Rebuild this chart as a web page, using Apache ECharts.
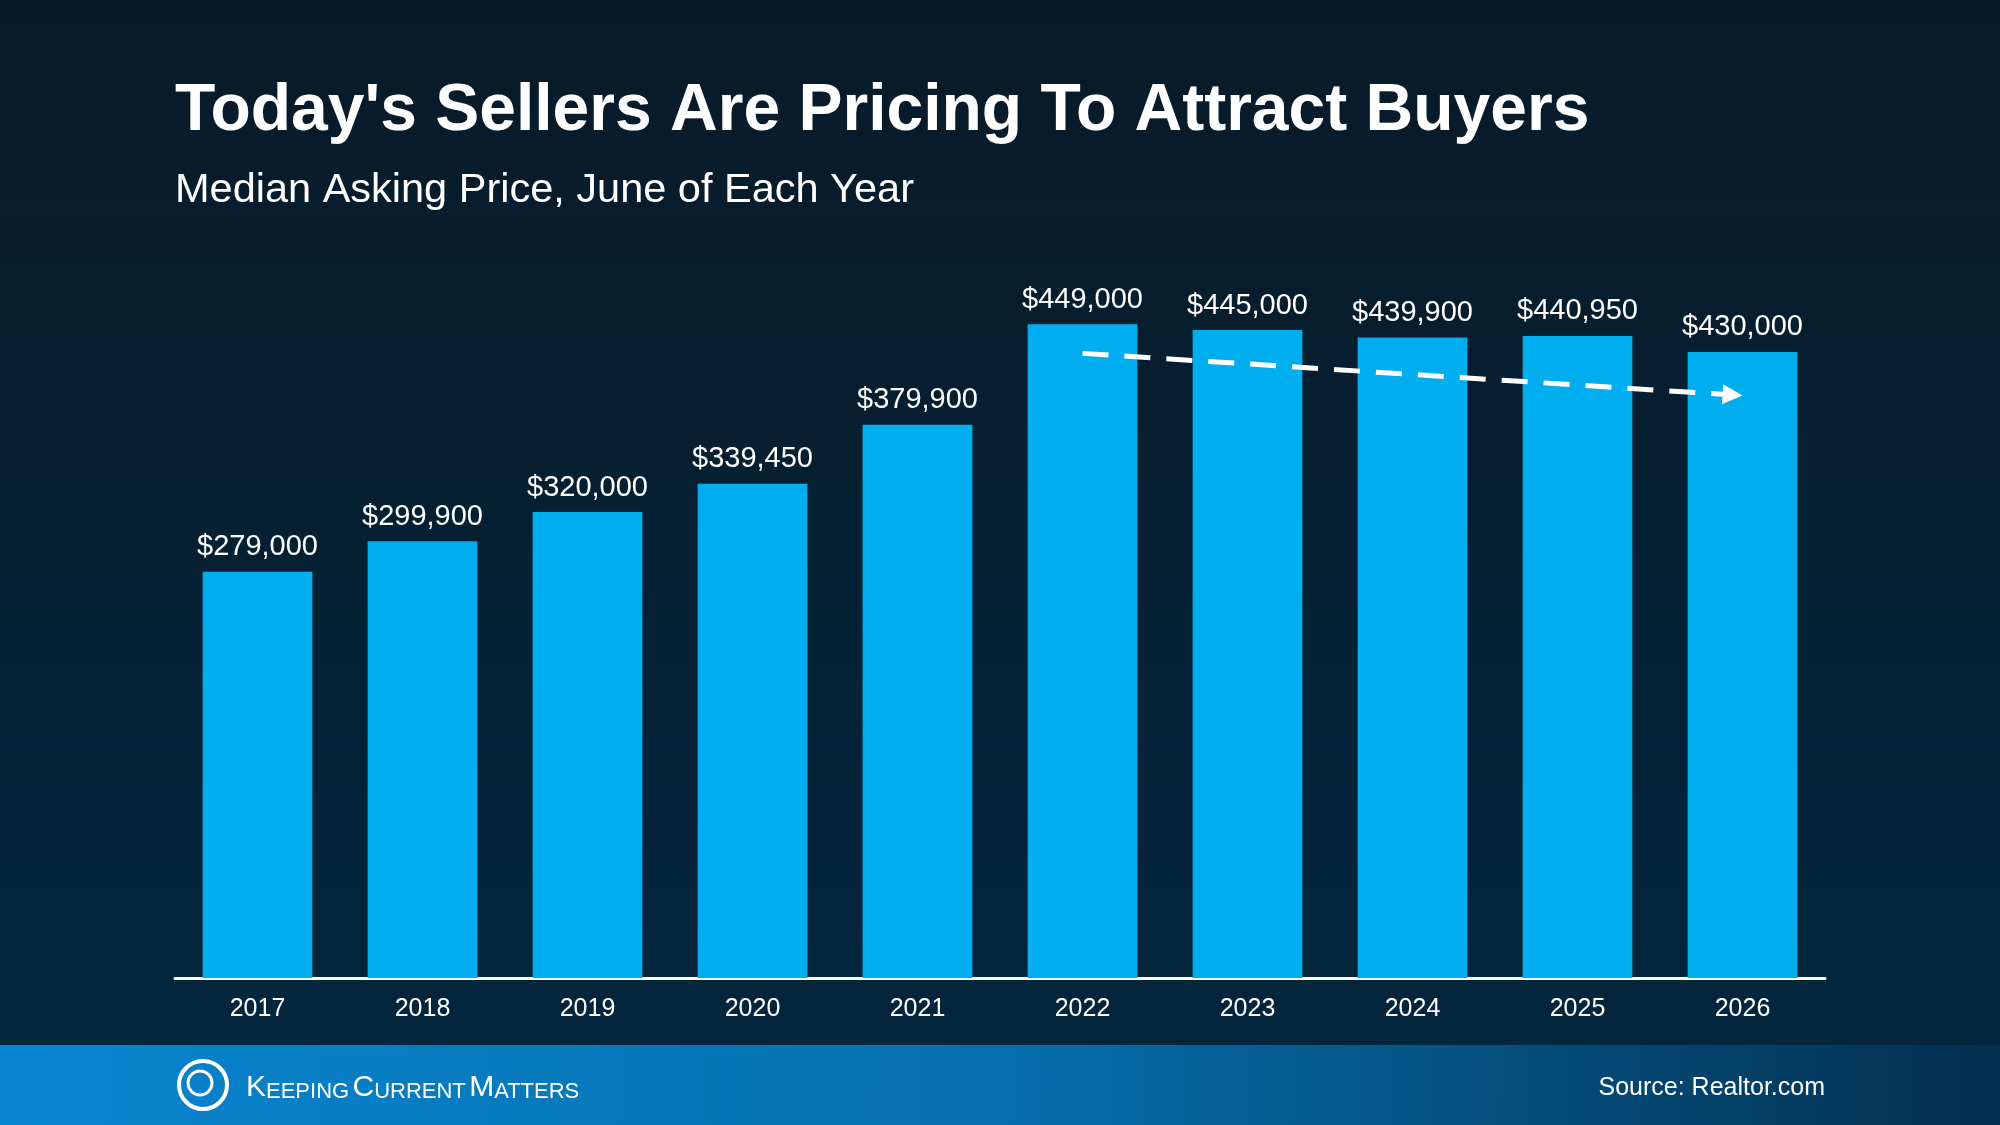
<!DOCTYPE html>
<html>
<head>
<meta charset="utf-8">
<title>Today's Sellers Are Pricing To Attract Buyers</title>
<script src="https://cdn.jsdelivr.net/npm/echarts@6/dist/echarts.min.js"></script>
<style>
  html, body { margin: 0; padding: 0; }
  #chart { width: 2000px; height: 1125px; }
</style>
</head>
<body>
<div id="chart"></div>
<script>
  // 数据
  var years = ['2017', '2018', '2019', '2020', '2021', '2022', '2023', '2024', '2025', '2026'];
  var prices = [279000, 299900, 320000, 339450, 379900, 449000, 445000, 439900, 440950, 430000];
  // 趋势箭头（2022 -> 2026）
  var trendYears = ['2022', '2026'];
  var trendValues = [429000, 400000];

  var font = '"Liberation Sans", Arial, sans-serif';
  var myChart = echarts.init(document.getElementById('chart'));

  myChart.setOption({
    backgroundColor: new echarts.graphic.LinearGradient(0, 0, 0, 1, [
      {offset: 0, color: '#081a28'},
      {offset: 1, color: '#03273f'}
    ]),
    animation: false,
    graphic: [
      {
        type: 'rect',
        shape: {x: 0, y: 1045, width: 2000, height: 80},
        style: {
          fill: new echarts.graphic.LinearGradient(0, 0, 1, 0.3, [
            {offset: 0, color: '#0885d0'},
            {offset: 0.5, color: '#0670ae'},
            {offset: 1, color: '#032f4f'}
          ])
        },
        silent: true
      },
      {
        type: 'text',
        x: 175, y: 112,
        style: {
          text: "Today's Sellers Are Pricing To Attract Buyers",
          fill: '#fff', font: 'bold 66px ' + font,
          verticalAlign: 'middle'
        }
      },
      {
        type: 'text',
        x: 175, y: 191,
        style: {
          text: 'Median Asking Price, June of Each Year',
          fill: '#fff', font: '41.5px ' + font,
          verticalAlign: 'middle'
        }
      },
      // logo
      {
        type: 'circle',
        shape: {cx: 203, cy: 1085, r: 24},
        style: {fill: 'none', stroke: '#fff', lineWidth: 4}
      },
      {
        type: 'circle',
        shape: {cx: 200, cy: 1083, r: 12},
        style: {fill: 'none', stroke: '#fff', lineWidth: 3}
      },
      {
        type: 'text',
        x: 246, y: 1088,
        style: {
          text: '{b|K}{s|EEPING} {b|C}{s|URRENT} {b|M}{s|ATTERS}',
          fill: '#fff',
          verticalAlign: 'middle',
          rich: {
            b: {fontSize: 30, fontFamily: font, color: '#fff', verticalAlign: 'bottom'},
            s: {fontSize: 22, fontFamily: font, color: '#fff', verticalAlign: 'bottom'}
          }
        }
      },
      {
        type: 'text',
        right: 175, y: 1076,
        style: {
          text: 'Source: Realtor.com',
          fill: '#fff', font: '25px ' + font
        }
      }
    ],
    grid: {
      left: 175,
      right: 175,
      top: 250,
      bottom: 147
    },
    xAxis: {
      type: 'category',
      data: years,
      axisLine: {
        lineStyle: {color: '#fff', width: 3}
      },
      axisTick: {show: false},
      axisLabel: {
        color: '#fff',
        fontSize: 25,
        fontFamily: font,
        margin: 19
      }
    },
    yAxis: {
      type: 'value',
      min: 0,
      max: 500000,
      show: false,
      splitLine: {show: false}
    },
    series: [
      {
        type: 'bar',
        data: prices,
        barCategoryGap: '33.5%',
        itemStyle: {color: '#00aeef'},
        label: {
          show: true,
          position: 'top',
          distance: 10,
          color: '#fff',
          fontSize: 29,
          fontFamily: font,
          formatter: function (p) {
            return '$' + p.value.toLocaleString('en-US');
          }
        },
        markLine: {
          silent: true,
          symbol: ['none', 'triangle'],
          symbolSize: [20, 20],
          symbolOffset: [[0, 0], [0, 10]],
          label: {show: false},
          lineStyle: {
            color: '#fff',
            width: 5,
            type: [26, 16]
          },
          data: [
            [
              {coord: [trendYears[0], trendValues[0]]},
              {coord: [trendYears[1], trendValues[1]]}
            ]
          ]
        }
      }
    ]
  });
  window.addEventListener('resize', myChart.resize);
</script>
</body>
</html>
